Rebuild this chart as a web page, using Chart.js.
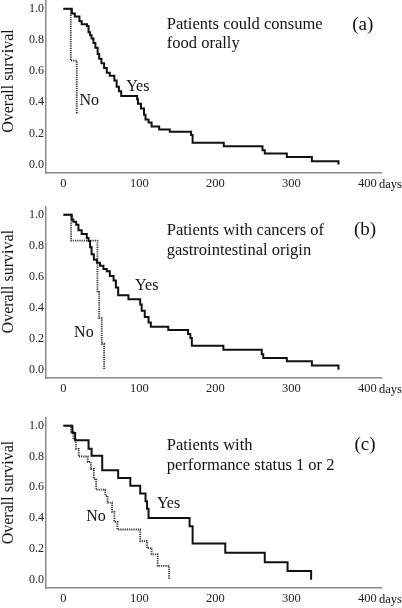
<!DOCTYPE html>
<html>
<head>
<meta charset="utf-8">
<script src="https://cdn.jsdelivr.net/npm/chart.js@4/dist/chart.umd.min.js"></script>
<style>
  html, body { margin: 0; padding: 0; background: #fff; width: 402px; height: 608px; overflow: hidden; position: relative; }
  .panel { position: absolute; left: 0; width: 402px; }
</style>
</head>
<body>
<div class="panel" id="wrap-a"><canvas id="chart-a"></canvas></div>
<div class="panel" id="wrap-b"><canvas id="chart-b"></canvas></div>
<div class="panel" id="wrap-c"><canvas id="chart-c"></canvas></div>
<script>
const X_TICKS = [0, 100, 200, 300, 400];
const Y_TICKS = [0, 0.2, 0.4, 0.6, 0.8, 1.0];

// (a) could consume food orally
const A_YES_DAYS = [0, 11, 15, 21, 24, 31, 33, 35, 37, 39.5, 42, 45, 47, 50, 53.5, 57, 61, 67, 70, 73, 76, 97, 98, 102, 106, 108, 112, 116, 126, 140, 168, 170, 211, 262, 265, 294, 327, 362];
const A_YES_SURV = [1.0, 0.97, 0.95, 0.92, 0.90, 0.89, 0.85, 0.83, 0.81, 0.78, 0.75, 0.71, 0.68, 0.65, 0.62, 0.59, 0.57, 0.54, 0.50, 0.47, 0.44, 0.42, 0.39, 0.36, 0.32, 0.29, 0.27, 0.245, 0.225, 0.21, 0.19, 0.14, 0.118, 0.092, 0.071, 0.049, 0.021, 0.0];
const A_NO_DAYS = [0, 9.6, 17.5, 20];
const A_NO_SURV = [1.0, 0.667, 0.333, 0.333];

// (b) cancers of gastrointestinal origin
const B_YES_DAYS = [0, 11, 13, 16.7, 19.7, 24, 30.7, 33, 35, 37, 40, 44, 48, 52.6, 57, 61, 66, 69, 72, 85.5, 101, 103, 107, 112, 115, 138, 164, 167, 169, 210.5, 261, 263, 294, 327, 362];
const B_YES_SURV = [1.0, 0.97, 0.955, 0.935, 0.90, 0.875, 0.85, 0.83, 0.79, 0.745, 0.71, 0.69, 0.67, 0.65, 0.635, 0.605, 0.575, 0.53, 0.48, 0.455, 0.42, 0.38, 0.34, 0.305, 0.277, 0.256, 0.23, 0.204, 0.155, 0.129, 0.10, 0.075, 0.054, 0.026, 0.0];
const B_NO_DAYS = [0, 10, 44.7, 47, 50.4, 53.5];
const B_NO_SURV = [1.0, 0.833, 0.5, 0.333, 0.167, 0.0];

// (c) performance status 1 or 2
const C_YES_DAYS = [0, 11.8, 15.4, 33, 37, 51, 72, 88, 101, 108, 110, 112, 166, 170, 213, 265, 295, 326];
const C_YES_SURV = [1.0, 0.952, 0.905, 0.85, 0.805, 0.71, 0.66, 0.61, 0.56, 0.51, 0.46, 0.40, 0.347, 0.235, 0.175, 0.114, 0.056, 0.0];
const C_NO_DAYS = [0, 10, 13, 16.5, 20, 32, 36, 40, 43, 55, 58, 64, 67, 71, 101, 110, 116, 124, 139];
const C_NO_SURV = [1.0, 0.96, 0.91, 0.85, 0.80, 0.765, 0.72, 0.655, 0.585, 0.545, 0.50, 0.44, 0.375, 0.326, 0.25, 0.205, 0.165, 0.09, 0.0];

const FONT = '"Liberation Serif", "Times New Roman", serif';

function toPoints(days, surv) {
  return days.map((d, i) => ({x: d, y: surv[i]}));
}

function makeTextPlugin(labels, titleAt) {
  return {
    id: 'panelText',
    afterDraw(chart) {
      const {ctx, chartArea, scales: {x, y}} = chart;
      ctx.save();
      ctx.fillStyle = '#111';
      ctx.textBaseline = 'alphabetic';
      for (const t of labels) {
        ctx.font = `${t.size}px ${FONT}`;
        ctx.textAlign = t.align || 'left';
        ctx.fillText(t.text, x.getPixelForValue(t.day), y.getPixelForValue(t.surv));
      }
      ctx.font = `12.5px ${FONT}`;
      ctx.textAlign = 'left';
      ctx.fillText('days', chartArea.right - 2, chartArea.bottom + 14.5);

      ctx.translate(8.5, y.getPixelForValue(titleAt));
      ctx.rotate(-Math.PI / 2);
      ctx.textAlign = 'center';
      ctx.textBaseline = 'middle';
      ctx.font = `16px ${FONT}`;
      ctx.fillText('Overall survival', 0, 0);
      ctx.restore();
    }
  };
}

function makePanel(id, top, areaHeight, yes, no, labels, titleAt) {
  const padTop = 12, axisHeight = 30;
  const wrap = document.getElementById('wrap-' + id);
  wrap.style.top = (top - padTop) + 'px';
  wrap.style.height = (padTop + areaHeight + axisHeight) + 'px';
  return new Chart(document.getElementById('chart-' + id), {
    type: 'line',
    data: {
      datasets: [
        {
          data: yes,
          stepped: true,
          borderColor: '#111',
          borderWidth: 2,
          pointRadius: 0,
          fill: false,
        },
        {
          data: no,
          stepped: true,
          borderColor: '#333',
          borderWidth: 1.8,
          borderDash: [1.2, 1],
          pointRadius: 0,
          fill: false,
        },
      ],
    },
    options: {
      responsive: true,
      maintainAspectRatio: false,
      animation: false,
      events: [],
      layout: { padding: { top: padTop, left: 0, right: 21, bottom: 0 } },
      scales: {
        x: {
          type: 'linear',
          min: -23,
          max: 418,
          afterBuildTicks: s => { s.ticks = X_TICKS.map(v => ({value: v})); },
          afterFit: s => { s.height = axisHeight; },
          grid: { display: false, drawTicks: false },
          border: { display: true, color: '#8a8a8a', width: 1.5 },
          ticks: {
            padding: 3,
            color: '#222',
            font: { family: FONT, size: 12.5 },
            maxRotation: 0,
            callback: v => String(v),
          },
        },
        y: {
          type: 'linear',
          min: -0.054,
          max: 1.05,
          afterBuildTicks: s => { s.ticks = Y_TICKS.map(v => ({value: v})); },
          afterFit: s => { s.width = 46; },
          grid: { display: false, drawTicks: false },
          border: { display: true, color: '#8a8a8a', width: 1.5 },
          ticks: {
            padding: 2,
            color: '#222',
            font: { family: FONT, size: 12 },
            callback: v => Number(v).toFixed(1),
          },
        },
      },
      plugins: {
        legend: { display: false },
        tooltip: { enabled: false },
      },
    },
    plugins: [makeTextPlugin(labels, titleAt)],
  });
}

makePanel('a', 1, 172, toPoints(A_YES_DAYS, A_YES_SURV), toPoints(A_NO_DAYS, A_NO_SURV), [
  {text: 'Patients could consume', day: 136, surv: 0.868, size: 16.5},
  {text: 'food orally', day: 136, surv: 0.751, size: 16.5},
  {text: '(a)', day: 394, surv: 0.865, size: 19, align: 'center'},
  {text: 'Yes', day: 82.5, surv: 0.475, size: 16},
  {text: 'No', day: 21, surv: 0.382, size: 16},
], 0.536);

makePanel('b', 207, 171, toPoints(B_YES_DAYS, B_YES_SURV), toPoints(B_NO_DAYS, B_NO_SURV), [
  {text: 'Patients with cancers of', day: 136, surv: 0.869, size: 16.5},
  {text: 'gastrointestinal origin', day: 136, surv: 0.742, size: 16.5},
  {text: '(b)', day: 397, surv: 0.869, size: 19, align: 'center'},
  {text: 'Yes', day: 94.3, surv: 0.514, size: 16},
  {text: 'No', day: 14, surv: 0.208, size: 16},
], 0.568);

makePanel('c', 418, 170, toPoints(C_YES_DAYS, C_YES_SURV), toPoints(C_NO_DAYS, C_NO_SURV), [
  {text: 'Patients with', day: 136, surv: 0.844, size: 16.5},
  {text: 'performance status 1 or 2', day: 136, surv: 0.715, size: 16.5},
  {text: '(c)', day: 397, surv: 0.844, size: 19, align: 'center'},
  {text: 'Yes', day: 123, surv: 0.467, size: 16},
  {text: 'No', day: 30, surv: 0.38, size: 16},
], 0.566);
</script>
</body>
</html>
